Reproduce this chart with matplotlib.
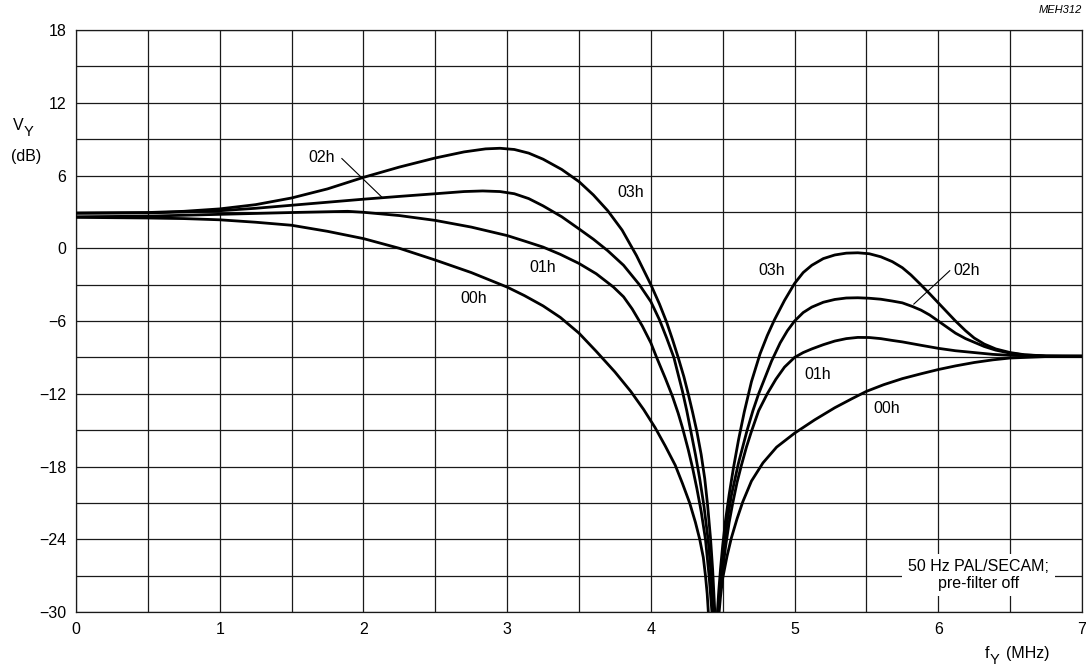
import numpy as np
import matplotlib
matplotlib.use("Agg")
import matplotlib.pyplot as plt

plt.rcParams['font.family'] = ['Liberation Sans', 'DejaVu Sans']

# frequency (MHz) / gain (dB), below and above the 4.43 MHz notch
f_00_lo = [0, 0.5, 0.75, 1.0, 1.25, 1.5, 1.75, 2.0, 2.25, 2.5, 2.75, 3.0, 3.12, 3.25, 3.37, 3.5, 3.62, 3.75, 3.86,
           3.95, 4.03, 4.10, 4.17, 4.22, 4.27, 4.31, 4.34, 4.365, 4.38, 4.392, 4.40]
v_00_lo = [2.55, 2.5, 2.45, 2.35, 2.15, 1.9, 1.4, 0.8, 0.0, -0.97, -2.0, -3.2, -3.9, -4.75, -5.7, -7.0, -8.5, -10.2, -11.8,
           -13.3, -14.8, -16.3, -17.9, -19.4, -21.0, -22.6, -24.0, -25.5, -27.0, -28.5, -30.0]
f_00_hi = [4.475, 4.485, 4.50, 4.53, 4.56, 4.60, 4.64, 4.70, 4.78, 4.875, 5.0, 5.14, 5.28, 5.4, 5.5, 5.62, 5.75, 5.88,
           6.0, 6.12, 6.25, 6.38, 6.5, 6.75, 7.0]
v_00_hi = [-30.0, -28.7, -27.2, -25.4, -23.9, -22.3, -20.9, -19.2, -17.7, -16.4, -15.25, -14.15, -13.15, -12.4, -11.8,
           -11.25, -10.75, -10.35, -10.0, -9.7, -9.42, -9.2, -9.05, -8.93, -8.9]

f_01_lo = [0, 0.5, 1.0, 1.5, 1.89, 2.0, 2.25, 2.5, 2.75, 3.0, 3.12, 3.25, 3.37, 3.5, 3.62, 3.74, 3.81, 3.87, 3.94, 4.0,
           4.04, 4.10, 4.15, 4.19, 4.22, 4.26, 4.29, 4.32, 4.35, 4.38, 4.405, 4.425]
v_01_lo = [2.6, 2.65, 2.8, 2.95, 3.05, 2.97, 2.7, 2.3, 1.75, 1.05, 0.6, 0.1, -0.5, -1.25, -2.1, -3.2, -4.0, -5.0, -6.4,
           -7.8, -9.0, -10.7, -12.2, -13.6, -14.8, -16.6, -18.1, -19.8, -21.7, -24.0, -27.0, -30.0]
f_01_hi = [4.47, 4.48, 4.495, 4.52, 4.545, 4.57, 4.60, 4.63, 4.665, 4.70, 4.75, 4.81, 4.87, 4.93, 5.0, 5.06, 5.12, 5.2,
           5.28, 5.36, 5.44, 5.52, 5.6, 5.68, 5.75, 5.88, 6.0, 6.12, 6.25, 6.38, 6.5, 6.75, 7.0]
v_01_hi = [-30.0, -28.5, -27.0, -24.6, -22.6, -21.0, -19.3, -17.9, -16.4, -15.1, -13.4, -12.0, -10.8, -9.8, -9.0, -8.6,
           -8.3, -7.95, -7.65, -7.45, -7.35, -7.36, -7.45, -7.6, -7.72, -8.0, -8.25, -8.45, -8.6, -8.75, -8.83, -8.9, -8.9]

f_02_lo = [0, 0.5, 0.75, 1.0, 1.25, 1.5, 1.75, 2.0, 2.25, 2.5, 2.7, 2.83, 2.95, 3.05, 3.15, 3.25, 3.38, 3.5, 3.6, 3.7,
           3.81, 3.92, 4.0, 4.06, 4.11, 4.16, 4.19, 4.22, 4.25, 4.28, 4.31, 4.34, 4.37, 4.40, 4.42, 4.435]
v_02_lo = [2.9, 2.92, 3.0, 3.1, 3.3, 3.55, 3.8, 4.05, 4.28, 4.5, 4.68, 4.73, 4.68, 4.5, 4.1, 3.5, 2.6, 1.6, 0.75, -0.2,
           -1.4, -3.0, -4.4, -5.9, -7.4, -9.0, -10.4, -11.8, -13.4, -15.2, -17.0, -19.0, -21.3, -24.2, -27.0, -30.0]
f_02_hi = [4.467, 4.477, 4.49, 4.51, 4.53, 4.56, 4.61, 4.67, 4.71, 4.75, 4.80, 4.84, 4.9, 4.95, 5.0, 5.06, 5.12, 5.2,
           5.28, 5.36, 5.44, 5.52, 5.6, 5.68, 5.75, 5.82, 5.88, 5.94, 6.0, 6.06, 6.12, 6.19, 6.25, 6.32, 6.4, 6.5, 6.6,
           6.75, 7.0]
v_02_hi = [-30.0, -28.4, -26.8, -24.6, -22.6, -20.4, -17.7, -15.0, -13.4, -12.0, -10.5, -9.3, -7.8, -6.8, -6.0, -5.3,
           -4.85, -4.45, -4.22, -4.1, -4.08, -4.12, -4.2, -4.35, -4.5, -4.8, -5.1, -5.5, -6.0, -6.5, -7.0, -7.45, -7.75,
           -8.1, -8.4, -8.65, -8.8, -8.88, -8.9]

f_03_lo = [0, 0.5, 0.75, 1.0, 1.25, 1.5, 1.75, 2.0, 2.25, 2.5, 2.7, 2.85, 2.95, 3.05, 3.15, 3.25, 3.38, 3.5, 3.6, 3.7,
           3.8, 3.9, 4.0, 4.06, 4.11, 4.15, 4.19, 4.23, 4.26, 4.29, 4.32, 4.35, 4.375, 4.395, 4.415, 4.43, 4.445]
v_03_lo = [2.9, 2.95, 3.05, 3.25, 3.6, 4.15, 4.9, 5.85, 6.7, 7.45, 7.95, 8.2, 8.25, 8.15, 7.85, 7.35, 6.5, 5.5, 4.4, 3.1,
           1.5, -0.6, -3.0, -4.6, -6.1, -7.5, -9.0, -10.6, -12.0, -13.5, -15.1, -17.0, -19.0, -21.2, -23.9, -26.5, -30.0]
f_03_hi = [4.463, 4.473, 4.485, 4.50, 4.52, 4.545, 4.575, 4.61, 4.65, 4.70, 4.76, 4.81, 4.86, 4.93, 5.0, 5.06, 5.12,
           5.2, 5.28, 5.36, 5.44, 5.52, 5.6, 5.68, 5.75, 5.81, 5.87, 5.94, 6.0, 6.06, 6.12, 6.19, 6.25, 6.32, 6.4, 6.5,
           6.6, 6.75, 7.0]
v_03_hi = [-30.0, -28.2, -26.4, -24.5, -22.4, -20.3, -18.1, -15.8, -13.5, -11.0, -8.7, -7.2, -5.9, -4.3, -2.9, -2.0,
           -1.4, -0.85, -0.55, -0.4, -0.37, -0.45, -0.7, -1.1, -1.6, -2.2, -2.9, -3.75, -4.5, -5.25, -6.0, -6.8, -7.4,
           -7.9, -8.3, -8.6, -8.78, -8.88, -8.9]

curves = [(f_00_lo, v_00_lo), (f_00_hi, v_00_hi),
          (f_01_lo, v_01_lo), (f_01_hi, v_01_hi),
          (f_02_lo, v_02_lo), (f_02_hi, v_02_hi),
          (f_03_lo, v_03_lo), (f_03_hi, v_03_hi)]

fig = plt.figure(figsize=(10.86, 6.68), dpi=100)
ax = fig.add_axes([0.0700, 0.0838, 0.9263, 0.8712])

for f, v in curves:
    ax.plot(f, v, color='black', lw=2.0, solid_joinstyle='round', solid_capstyle='butt', zorder=3)

ax.set_xlim(0, 7)
ax.set_ylim(-30, 18)
ax.set_xticks(np.arange(0, 8, 1))
ax.set_yticks(np.arange(-30, 19, 6))
ax.set_xticks(np.arange(0, 7.01, 0.5), minor=True)
ax.set_yticks(np.arange(-30, 18.01, 3), minor=True)
ax.grid(True, which='both', color='#1a1a1a', lw=0.9, zorder=1)
ax.tick_params(which='both', length=0, labelsize=11.5)
ax.tick_params(axis='x', pad=7)
ax.tick_params(axis='y', pad=7)
for s in ax.spines.values():
    s.set_color('#1a1a1a')
    s.set_linewidth(0.9)

# curve labels
ax.text(1.71, 7.5, '02h', fontsize=11.5, ha='center', va='center', zorder=4)
ax.plot([1.85, 2.13], [7.4, 4.2], color='black', lw=0.8, zorder=4)
ax.text(3.86, 4.6, '03h', fontsize=11.5, ha='center', va='center', zorder=4)
ax.text(3.25, -1.6, '01h', fontsize=11.5, ha='center', va='center', zorder=4)
ax.text(2.77, -4.1, '00h', fontsize=11.5, ha='center', va='center', zorder=4)
ax.text(4.84, -1.8, '03h', fontsize=11.5, ha='center', va='center', zorder=4)
ax.text(6.2, -1.8, '02h', fontsize=11.5, ha='center', va='center', zorder=4)
ax.plot([6.08, 5.83], [-1.85, -4.6], color='black', lw=0.8, zorder=4)
ax.text(5.16, -10.4, '01h', fontsize=11.5, ha='center', va='center', zorder=4)
ax.text(5.64, -13.2, '00h', fontsize=11.5, ha='center', va='center', zorder=4)

ax.text(6.28, -26.95, '50 Hz PAL/SECAM;\npre-filter off', fontsize=11.5, ha='center', va='center',
        linespacing=1.1, zorder=4,
        bbox=dict(facecolor='white', edgecolor='none', pad=4))

# axis titles (subscript drawn as its own text so it stays near full size)
ax.text(-0.0575, 0.836, 'V', transform=ax.transAxes, fontsize=11.5, ha='center', va='center')
ax.text(-0.0475, 0.824, 'Y', transform=ax.transAxes, fontsize=10.5, ha='center', va='center')
ax.text(-0.05, 0.782, '(dB)', transform=ax.transAxes, fontsize=11.5, ha='center', va='center')
ax.text(0.906, -0.072, 'f', transform=ax.transAxes, fontsize=11.5, ha='center', va='center')
ax.text(0.9135, -0.082, 'Y', transform=ax.transAxes, fontsize=10.5, ha='center', va='center')
ax.text(0.9245, -0.072, '(MHz)', transform=ax.transAxes, fontsize=11.5, ha='left', va='center')
ax.text(1.0, 1.035, 'MEH312', transform=ax.transAxes, fontsize=8, style='italic', ha='right', va='center')

fig.savefig('out.png', dpi=100)
